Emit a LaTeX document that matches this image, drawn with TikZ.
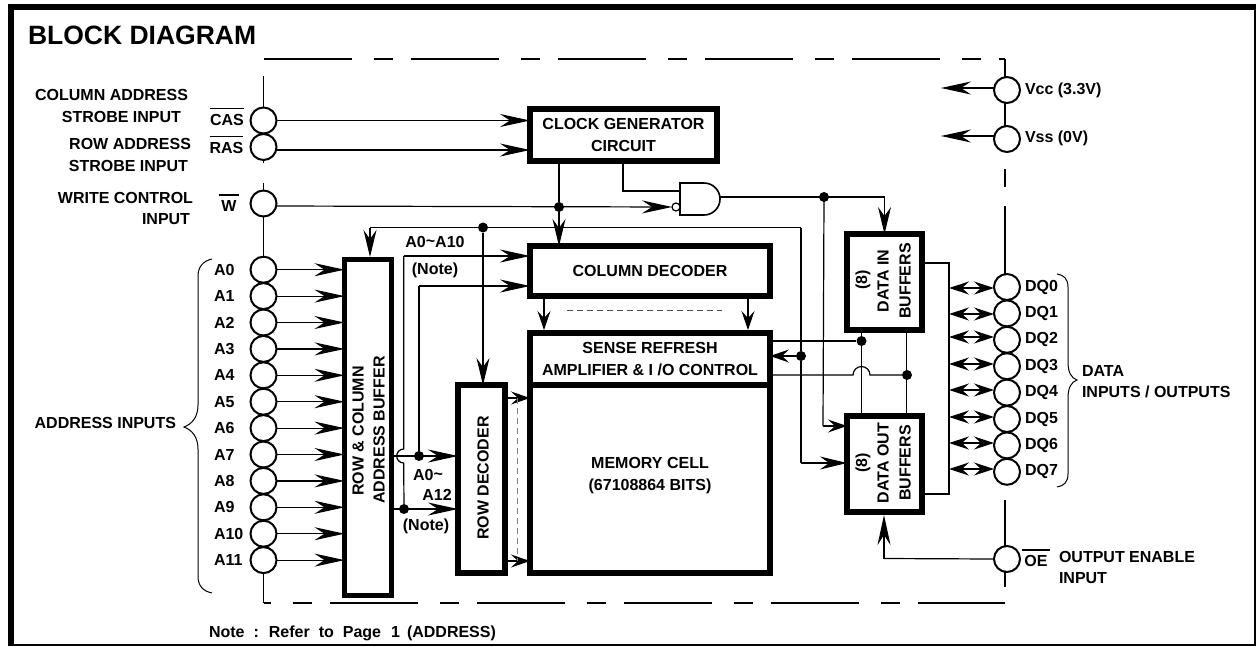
\documentclass[tikz,border=0pt]{standalone}
\usepackage{fontspec}
\setmainfont{Liberation Sans}[BoldFont={Liberation Sans Bold}]
\usetikzlibrary{arrows.meta,calc}
\newcommand{\ovbar}[2][5pt]{\vbox{\hrule height 1.6pt\kern#1\hbox{#2}}}
\tikzset{
  lab/.style={inner sep=0pt,outer sep=0pt,font=\bfseries\fontsize{16}{22}\selectfont,text=black},
  blk/.style={draw=black,line width=5.5pt,fill=white,lab},
  pin/.style={circle,draw=black,line width=2pt,minimum size=26pt,inner sep=0pt,outer sep=0pt,fill=none},
  dot/.style={circle,fill=black,inner sep=0pt,minimum size=10pt},
  wire/.style={draw=black,line width=1.2pt},
  rail/.style={draw=black,line width=1.6pt},
  big/.style={wire,-{Stealth[length=30pt,width=13pt,inset=10pt]}},
  mid/.style={wire,-{Stealth[length=27pt,width=13pt,inset=9pt]}},
  small/.style={wire,-{Stealth[length=19pt,width=13pt,inset=7pt]}},
  dbl/.style={wire,{Stealth[length=20pt,width=13pt,inset=7pt]}-{Stealth[length=20pt,width=13pt,inset=7pt]}},
  hint/.style={draw=black!70,line width=.7pt,dash pattern=on 6pt off 4pt}
}
\begin{document}
\begin{tikzpicture}[x=1pt,y=-1pt]
\useasboundingbox (0,0) rectangle (1258,646);
\fill[white] (0,0) rectangle (1258,646);
% frame
\draw[line width=6pt] (11,646) -- (11,7) -- (1255.5,7);
\draw[line width=1.5pt] (1255,7) -- (1255,645) -- (8,645);
\node[lab,anchor=west,font=\bfseries\fontsize{26.5}{30}\selectfont] (title) at (28,35) {BLOCK DIAGRAM};
% blocks
\node[blk,minimum width=187pt,minimum height=52pt,align=center] (clk) at (623.5,135) {CLOCK GENERATOR\\CIRCUIT};
\node[blk,minimum width=240pt,minimum height=50pt] (col) at (650,271) {COLUMN DECODER};
\node[blk,minimum width=240pt,minimum height=52pt,align=center] (sense) at (650,359) {SENSE REFRESH\\AMPLIFIER \& I /O CONTROL};
\node[blk,minimum width=240pt,minimum height=188pt] (mem) at (650,479) {};
\node[lab,align=center] (memt) at (650,475.5) {MEMORY CELL\\(67108864 BITS)};
\node[blk,minimum width=47pt,minimum height=336pt] (rcb) at (368,427.5) {};
\node[lab,rotate=90] (rcb1) at (358,431) {ROW \& COLUMN};
\node[lab,rotate=90] (rcb2) at (379,430) {ADDRESS BUFFER};
\node[blk,minimum width=47pt,minimum height=188pt] (rowd) at (481.5,479) {};
\node[lab,rotate=90] (rowt) at (483,478) {ROW DECODER};
\node[blk,minimum width=75pt,minimum height=96pt] (din) at (884.5,282) {};
\node[lab,rotate=90] (din1) at (863,280) {(8)};
\node[lab,rotate=90] (din2) at (883,281) {DATA IN};
\node[lab,rotate=90] (din3) at (905,281) {BUFFERS};
\node[blk,minimum width=75pt,minimum height=96pt] (dout) at (884.5,464) {};
\node[lab,rotate=90] (dout1) at (863,463) {(8)};
\node[lab,rotate=90] (dout2) at (883,463) {DATA OUT};
\node[lab,rotate=90] (dout3) at (905,463) {BUFFERS};
% pins
\node[pin] (CAS) at (263.5,120.5) {};
\node[pin] (RAS) at (263.5,147) {};
\node[pin] (W) at (263.5,203.5) {};
\foreach \i/\y in {0/269.7,1/296.1,2/322.5,3/348.9,4/375.3,5/401.7,6/428.1,7/454.5,8/480.9,9/507.3,10/533.7,11/560.1}{
  \node[pin] (A\i) at (263.5,\y) {};
  \node[lab,anchor=west] (LA\i) at (214,\y) {A\i};
  \draw[big] (A\i.east) -- (rcb.west |- A\i.east);
}
\foreach \i/\y in {0/287,1/313.4,2/339.8,3/366.2,4/392.6,5/419,6/445.4,7/471.8}{
  \node[pin] (DQ\i) at (1007,\y) {};
  \node[lab,anchor=west] (LDQ\i) at (1025,\y) {DQ\i};
}
\node[pin] (Vcc) at (1007,90) {};
\node[pin] (Vss) at (1007,139) {};
\node[pin] (OE) at (1007,559) {};
% pin labels
\node[lab,anchor=east] (t1) at (188,95) {COLUMN ADDRESS};
\node[lab,anchor=east] (t2) at (181,117) {STROBE INPUT};
\node[lab,anchor=east] (t3) at (191,144) {ROW ADDRESS};
\node[lab,anchor=east] (t4) at (188,166) {STROBE INPUT};
\node[lab,anchor=east] (t5) at (193,198) {WRITE CONTROL};
\node[lab,anchor=east] (t6) at (190,219) {INPUT};
\node[lab] (tCAS) at (227,116.5) {\ovbar{CAS}};
\node[lab] (tRAS) at (226.5,144.5) {\ovbar{RAS}};
\node[lab] (tW) at (229,203) {\ovbar{\,W\,}};
\node[lab,anchor=east] (tAI) at (176,423) {ADDRESS INPUTS};
\node[lab,anchor=west] (tVcc) at (1025,90) {Vcc (3.3V)};
\node[lab,anchor=west] (tVss) at (1025,138) {Vss (0V)};
\node[lab,anchor=west] (tD) at (1082,371) {DATA};
\node[lab,anchor=west] (tIO) at (1082,392) {INPUTS / OUTPUTS};
\node[lab] (tOE) at (1036,558) {\ovbar{\,OE\,}};
\node[lab,anchor=west] (tOEa) at (1059,557) {OUTPUT ENABLE};
\node[lab,anchor=west] (tOEb) at (1059,578) {INPUT};
\node[lab] (tA1) at (435,242) {A0\raisebox{1pt}{\~{}}A10};
\node[lab] (tN1) at (435,270) {(Note)};
\node[lab] (tA2) at (428,475) {A0\raisebox{1pt}{\~{}}};
\node[lab] (tA3) at (437,495) {A12};
\node[lab] (tN2) at (426,526) {(Note)};
\node[lab,anchor=west] (note) at (209,633) {Note\hspace{9pt}:\hspace{10pt}Refer\hspace{9pt}to\hspace{9pt}Page\hspace{10pt}1\hspace{7pt}(ADDRESS)};
% package outline
\coordinate (ol) at (264,59);
\coordinate (or) at (1004.7,59);
\coordinate (ul) at (264,603);
\coordinate (ur) at (1004.7,603);
\draw[rail,dash pattern=on 88pt off 21.5pt on 19pt off 18.5pt] (ol) -- (or);
\draw[rail,dash pattern=on 88pt off 21.5pt on 19pt off 18.5pt,dash phase=81pt] (ul) -- (ur);
\draw[rail] (CAS.north |- 0,76) -- (CAS.north);
\draw[rail] (RAS.south) -- (RAS.south |- 0,163);
\draw[rail] (W.north |- 0,183) -- (W.north);
\draw[rail] (W.south) -- (A0.north);
\draw[rail] (A11.south) -- (A11.south |- ul);
\draw[rail] (or) -- (or |- Vcc.north);
\draw[rail] (or |- Vcc.south) -- (or |- Vss.north);
\draw[rail] (or |- 0,169) -- (or |- 0,187);
\draw[rail] (or |- 0,206) -- (or |- DQ0.north);
\draw[rail] (or |- 0,500) -- (or |- OE.north);
\draw[rail] (or |- OE.south) -- (or |- 0,587);
% braces
\draw[line width=1pt] (212,259) .. controls (203,261) and (198,267) .. (198,276) -- (198,405) .. controls (198,417) and (192,424) .. (184,427) .. controls (192,430) and (198,437) .. (198,449) -- (198,576) .. controls (198,586) and (203,591) .. (212,593);
\draw[line width=1pt] (1057,274) .. controls (1064,275) and (1068,279) .. (1068,287) -- (1068,362) .. controls (1068,372) and (1071,378) .. (1077,380) .. controls (1071,382) and (1068,388) .. (1068,398) -- (1068,474) .. controls (1068,482) and (1064,486) .. (1057,487);
% clock inputs
\draw[big] (CAS.east) -- (clk.west |- CAS.east);
\draw[big] ([yshift=-3pt]RAS.east) -- (clk.west |- 0,150);
% NAND gate
\draw[line width=1.6pt] (680,183) -- (704,183) arc[start angle=-90,end angle=90,radius=16] -- (680,215) -- cycle;
\coordinate (gout) at (720,197);
\coordinate (gin1) at (680,191);
\node[circle,draw=black,line width=1.2pt,fill=white,minimum size=8pt,inner sep=0pt,outer sep=0pt] (bub) at (676,207) {};
\draw[wire] (623,0 |- clk.south) -- (623,191) -- (gin1);
\draw[big] ([yshift=-2.5pt]W.east) -- (bub.west);
\node[dot] (dW) at (559,207) {};
\draw[mid] (dW) -- (dW |- col.north);
\draw[wire] (dW |- clk.south) -- (dW);
\node[dot] (dG) at (824,197) {};
\draw[mid] (gout) -| (din.north);
\draw[wire] (dG.center) -- (823,426);
\draw[small] (823,426) -- (dout.west |- 0,426);
% control rail
\coordinate (rt) at (801,227.5);
\node[dot] (dR) at (483,227.5) {};
\draw[wire] (rt) -- (370,227.5);
\draw[mid] (370,227.5) -- (370,257);
\draw[mid] (dR) -- (dR |- rowd.north);
\node[dot] (dS) at (801,356) {};
\draw[wire] (rt) -- (dS);
\draw[small] (dS) -- (sense.east |- dS);
\draw[wire] (dS) -- (801,463);
\draw[mid] (801,463) -- (dout.west |- 0,463);
% address paths
\node[dot] (dA1) at (419,456) {};
\node[dot] (dA2) at (404,509) {};
\draw[big] (rcb.east |- dA1) -- (rowd.west |- dA1);
\draw[big] (rcb.east |- dA2) -- (rowd.west |- dA2);
\draw[wire] (dA2) -- (403.7,463) arc[start angle=90,end angle=270,radius=7] -- (403.7,256);
\draw[wire] (403.7,256) -- (420,256);
\draw[big] (420,256) -- (col.west |- 0,256);
\draw[wire] (dA1) -- (419,286);
\draw[big] (419,286) -- (col.west |- 0,286);
% decoder to cells
\draw[small] (544,299) -- (544,330);
\draw[small] (748,299) -- (748,330);
\draw[hint] (567,310) -- (722,310);
\draw[small] (rowd.east |- 0,398) -- (mem.west |- 0,398);
\draw[small] (rowd.east |- 0,561) -- (mem.west |- 0,561);
\draw[hint,draw=black!50] (517,398) -- (517,561);
% data paths
\node[dot] (dD1) at (861.5,341) {};
\node[dot] (dD2) at (907,375) {};
\draw[wire] (sense.east |- dD1) -- (dD1);
\draw[rail] (861.5,333) -- (861.5,413);
\draw[rail] (906.5,333) -- (906.5,413);
\draw[wire] (sense.east |- dD2) -- (853,375) arc[start angle=180,end angle=360,radius=8.5] -- (dD2);
\draw[line width=2pt] (925,263) -| (949,494) -- (925,494);
\coordinate (bus) at (949,0);
\foreach \i/\y in {0/288,1/314,2/337,3/364,4/390,5/417,6/443,7/469}{
  \draw[dbl] (bus |- 0,\y) -- (DQ\i.west |- 0,\y);
}
\draw[big] ([yshift=2pt]Vcc.west) -- (941,88);
\draw[big] ([yshift=3pt]Vss.west) -- (941,136);
\draw[wire] (OE.west) -- (884,558.5);
\draw[big] (884,558.5) -- (884,515);
\end{tikzpicture}
\end{document}
